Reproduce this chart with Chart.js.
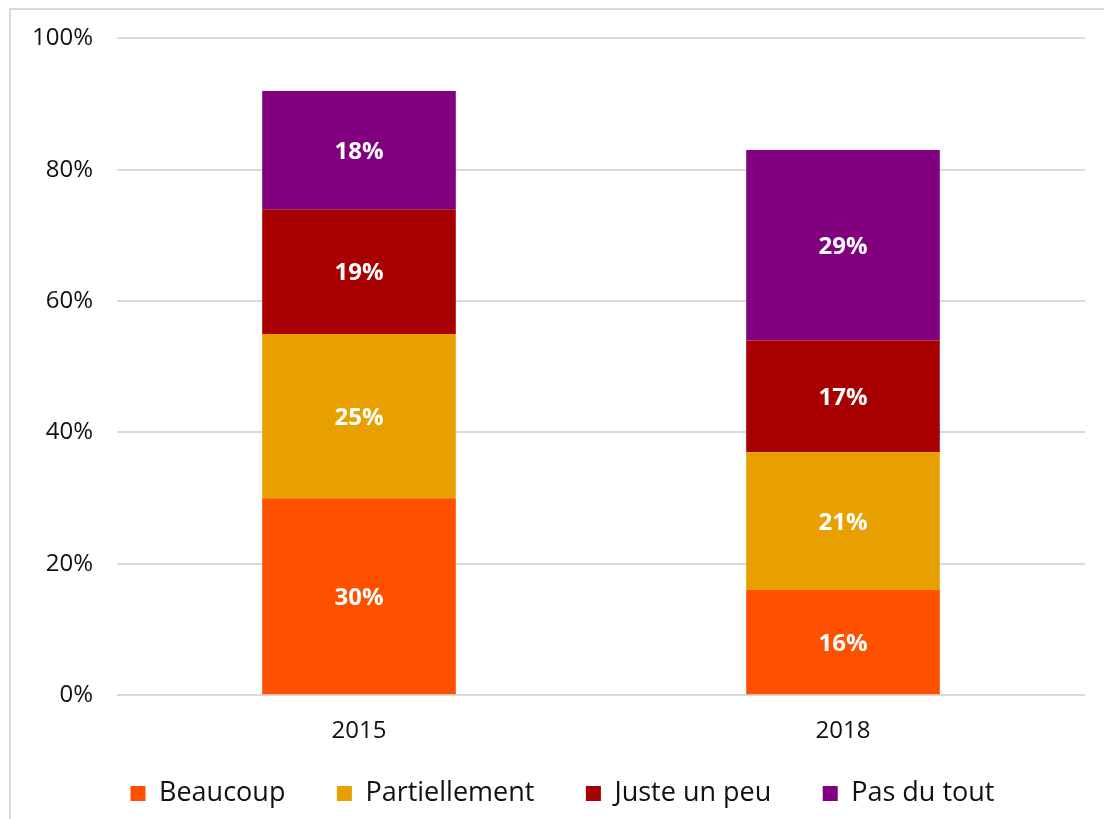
<!DOCTYPE html>
<html lang="fr">
<head>
    <meta charset="UTF-8">
    <title>Graphique empilé 2015 / 2018</title>
    <style>
        body {
            margin: 0;
            padding: 0;
            background: #fff;
            font-family: "Open Sans", "DejaVu Sans", sans-serif;
        }
        .frame {
            position: absolute;
            left: 9px;
            top: 8px;
            width: 1110px;
            height: 830px;
            border: 2px solid #d9d9d9;
        }
        .wrap {
            position: absolute;
            left: 0;
            top: 0;
            width: 1104px;
            height: 819px;
        }
    </style>
</head>
<body>
    <div class="frame"></div>
    <div class="wrap"><canvas id="chart" width="1104" height="819"></canvas></div>

    <script src="https://cdn.jsdelivr.net/npm/chart.js"></script>
    <script>
        // données
        const years = ["2015", "2018"];
        const beaucoup = [30, 16];
        const partiellement = [25, 21];
        const justeUnPeu = [19, 17];
        const pasDuTout = [18, 29];
        const yTicks = [0, 20, 40, 60, 80, 100];

        const fontFam = "'Open Sans', 'DejaVu Sans', sans-serif";

        // étiquettes blanches au centre des barres
        const barLabels = {
            id: "barLabels",
            afterDatasetsDraw(chart) {
                const ctx = chart.ctx;
                ctx.save();
                ctx.fillStyle = "#fff";
                ctx.font = "bold 24px " + fontFam;
                ctx.textAlign = "center";
                ctx.textBaseline = "middle";
                chart.data.datasets.forEach((ds, i) => {
                    chart.getDatasetMeta(i).data.forEach((bar, j) => {
                        const mid = (bar.y + bar.base) / 2;
                        ctx.fillText(ds.data[j] + "%", bar.x, mid + 2);
                    });
                });
                ctx.restore();
            }
        };

        // la légende est un peu décalée vers la droite dans l'original
        const legendShift = {
            id: "legendShift",
            afterLayout(chart) {
                if (chart.legend) {
                    chart.legend.left += 10;
                    chart.legend.right += 10;
                }
            }
        };

        const ctx = document.getElementById("chart").getContext("2d");
        new Chart(ctx, {
            type: "bar",
            data: {
                labels: years,
                datasets: [
                    { label: "Beaucoup", data: beaucoup, backgroundColor: "#FF5000" },
                    { label: "Partiellement", data: partiellement, backgroundColor: "#E8A000" },
                    { label: "Juste un peu", data: justeUnPeu, backgroundColor: "#A80000" },
                    { label: "Pas du tout", data: pasDuTout, backgroundColor: "#800080" }
                ]
            },
            options: {
                responsive: false,
                animation: false,
                maintainAspectRatio: false,
                layout: { padding: { left: 20, right: 19, top: 26, bottom: 2 } },
                datasets: { bar: { barPercentage: 0.4, categoryPercentage: 1.0 } },
                plugins: {
                    tooltip: { enabled: false },
                    legend: {
                        position: "bottom",
                        labels: {
                            boxWidth: 15,
                            boxHeight: 15,
                            padding: 20,
                            color: "#111",
                            font: { size: 27, family: fontFam },
                            // espace plus large entre les entrées, comme l'original
                            generateLabels(chart) {
                                const items = Chart.defaults.plugins.legend.labels.generateLabels(chart);
                                items.forEach((it, k) => {
                                    if (k < items.length - 1) it.text += "\u2003\u2009";
                                    it.strokeStyle = "rgba(0,0,0,0)";
                                    it.lineWidth = 0;
                                });
                                return items;
                            }
                        }
                    }
                },
                scales: {
                    x: {
                        stacked: true,
                        grid: { display: false },
                        border: { display: false },
                        ticks: { color: "#111", font: { size: 24, family: fontFam }, padding: 14 }
                    },
                    y: {
                        stacked: true,
                        min: 0,
                        max: 100,
                        afterFit(axis) { axis.width = 97; },
                        afterBuildTicks(axis) { axis.ticks = yTicks.map(v => ({ value: v })); },
                        grid: { color: "#d9d9d9", lineWidth: 2, drawTicks: false },
                        border: { display: false },
                        ticks: {
                            color: "#111",
                            padding: 24,
                            font: { size: 24, family: fontFam },
                            callback: v => v + "%"
                        }
                    }
                }
            },
            plugins: [barLabels, legendShift]
        });
    </script>
</body>
</html>
